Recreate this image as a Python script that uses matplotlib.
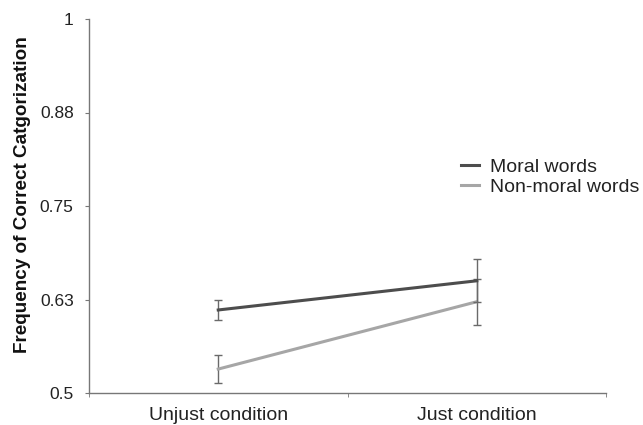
import matplotlib
matplotlib.use("Agg")
import matplotlib.pyplot as plt
import numpy as np
from matplotlib.lines import Line2D

plt.rcParams['font.family'] = ['Liberation Sans', 'DejaVu Sans']

categories = ["Unjust condition", "Just condition"]
moral = [0.611, 0.650]
moral_err = [0.014, 0.029]
nonmoral = [0.532, 0.622]
nonmoral_err = [0.019, 0.031]
ytick_vals = [0.5, 0.625, 0.75, 0.875, 1.0]
ytick_labels = ["0.5", "0.63", "0.75", "0.88", "1"]
series_labels = ["Moral words", "Non-moral words"]

fig = plt.figure(figsize=(6.43, 4.25), dpi=100)
ax = fig.add_axes([89/643, 32/425, (606-89)/643, (393-19)/425])

x = np.arange(len(categories))
ax.errorbar(x, moral, yerr=moral_err, color='#4d4d4d', lw=2.2, ecolor='#6a6a6a',
            elinewidth=1.0, capsize=3, capthick=1.0, zorder=3)
ax.errorbar(x, nonmoral, yerr=nonmoral_err, color='#a6a6a6', lw=2.2, ecolor='#6a6a6a',
            elinewidth=1.0, capsize=3, capthick=1.0, zorder=2)

ax.set_xlim(-0.5, len(categories) - 0.5)
ax.set_ylim(0.5, 1.0)
ax.set_yticks(ytick_vals)
ax.set_yticklabels(ytick_labels, fontsize=12.5, color='#222222')
ax.set_xticks(x)
ax.set_xticklabels(categories, fontsize=14, color='#222222')
ax.tick_params(axis='x', length=0, pad=10)
ax.set_xticks(np.arange(-0.5, len(categories), 1.0), minor=True)
ax.tick_params(axis='x', which='minor', length=3, direction='out', color='#777777')
ax.tick_params(axis='y', length=3, direction='out', color='#777777', pad=8)

for s in ['top', 'right']:
    ax.spines[s].set_visible(False)
for s in ['left', 'bottom']:
    ax.spines[s].set_color('#777777')
    ax.spines[s].set_linewidth(1.0)

ax.set_ylabel("Frequency of Correct Catgorization", fontsize=13.6, fontweight='bold',
              color='#111111')
ax.yaxis.set_label_coords(-0.112, 0.53)

h = [Line2D([], [], color='#4d4d4d', lw=2.2), Line2D([], [], color='#a6a6a6', lw=2.2)]
leg = ax.legend(h, series_labels, loc='upper left', bbox_to_anchor=(0.686, 0.675), frameon=False,
                fontsize=14, handlelength=0.9, handletextpad=0.6, labelspacing=0.15)
for t in leg.get_texts():
    t.set_color('#222222')

fig.savefig("out.png", dpi=100)
